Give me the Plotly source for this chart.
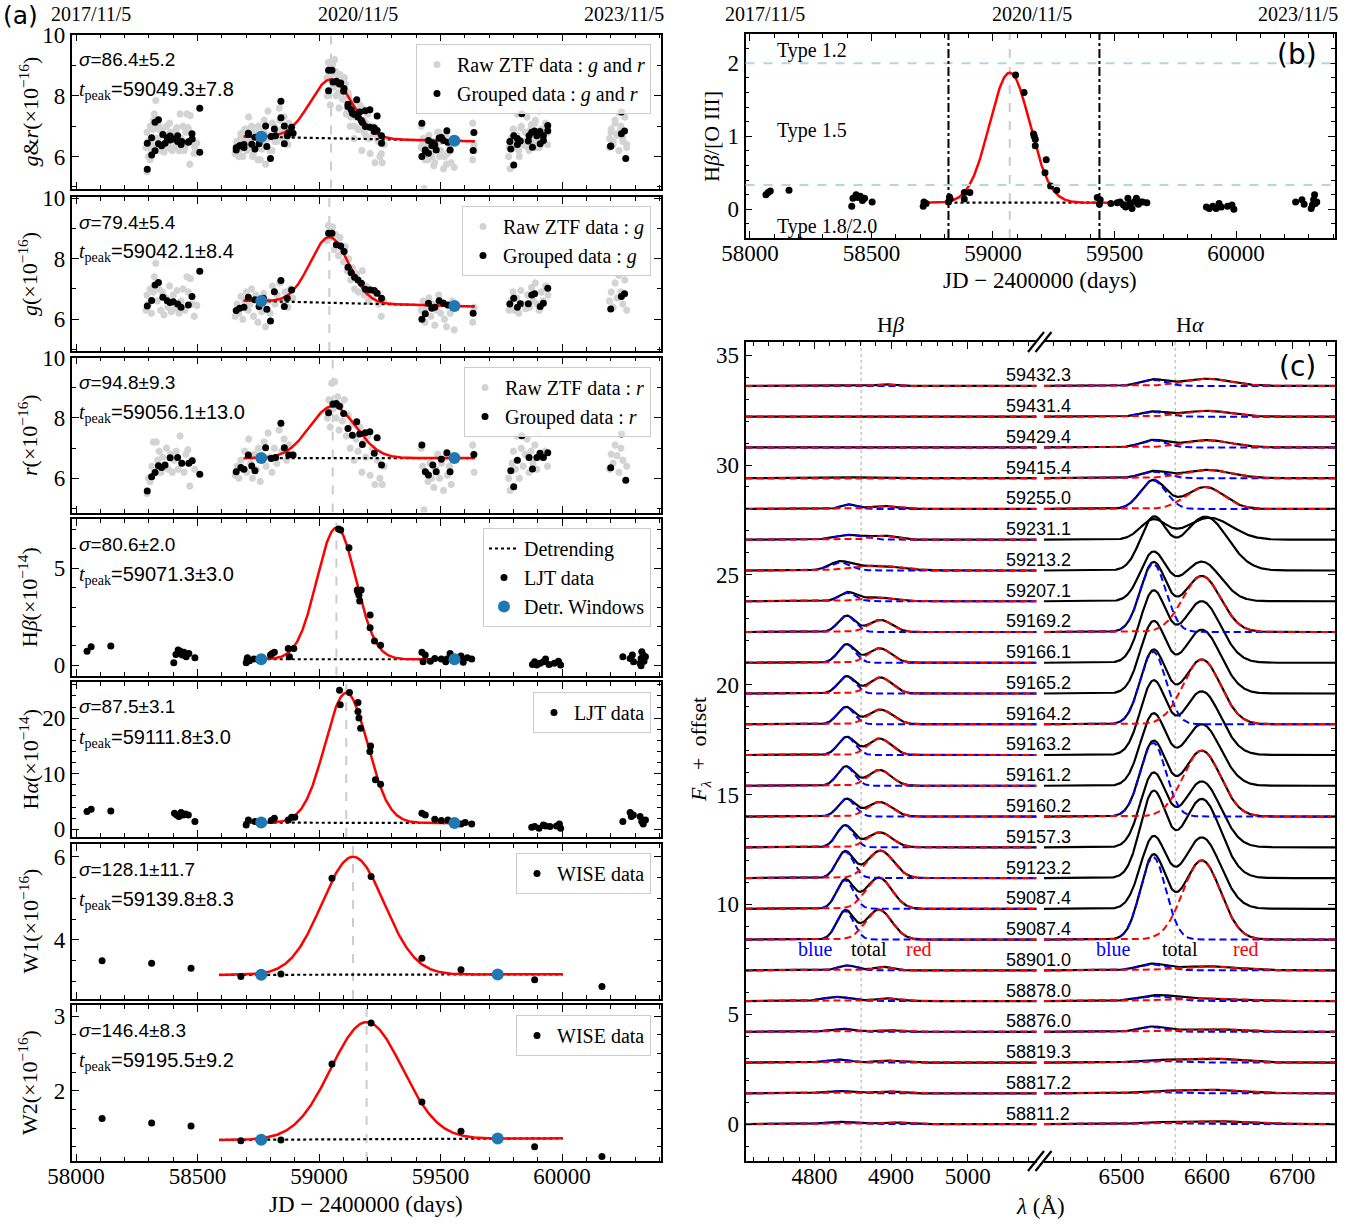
import numpy as np
import plotly.graph_objects as go

W, H = 1354, 1224
SERIF = "Liberation Serif"
SANS = "Liberation Sans"

def fx(px):
    return px / W

def fy(py):
    return 1 - py / H

# ------------------------------------------------------------------ data
# ZTF grouped g
g_grp_t = [58293, 58311, 58325, 58339, 58357, 58375, 58387, 58400, 58418, 58432, 58462, 58477, 58509,
           58659, 58673, 58691, 58709, 58736, 58753, 58771, 58785, 58800, 58816, 58843, 58857, 58869, 58887,
           59039, 59053, 59071, 59089, 59103, 59119, 59132, 59146, 59160, 59174, 59190, 59209, 59227, 59239, 59257,
           59423, 59437, 59450, 59464, 59476, 59494, 59512, 59530, 59634,
           59785, 59801, 59816, 59828, 59861, 59875, 59887, 59910, 59923, 59941,
           60200, 60244, 60257]
g_grp_v = [6.44, 6.62, 7.13, 7.21, 6.73, 6.61, 6.55, 6.58, 6.50, 6.40, 6.47, 6.75, 7.59,
           6.29, 6.36, 6.40, 6.73, 6.64, 6.42, 6.69, 6.33, 5.94, 6.91, 7.28, 6.42, 6.69, 6.97,
           8.84, 8.84, 8.46, 8.42, 8.24, 7.72, 7.54, 7.39, 7.30, 7.19, 6.99, 6.97, 6.95, 6.86, 6.69,
           6.00, 6.18, 6.53, 6.36, 6.40, 6.61, 6.53, 6.47, 6.20,
           6.50, 6.69, 6.40, 6.51, 6.51, 6.80, 6.84, 6.42, 6.53, 7.02,
           6.34, 6.75, 6.84]
# ZTF grouped r
r_grp_t = [58293, 58311, 58325, 58339, 58352, 58366, 58387, 58418, 58435, 58464, 58478, 58509,
           58659, 58678, 58691, 58709, 58723, 58736, 58780, 58803, 58821, 58843, 58857, 58875, 58893,
           59039, 59057, 59071, 59084, 59101, 59119, 59137, 59155, 59167, 59178, 59190, 59209, 59227, 59239, 59257,
           59423, 59437, 59450, 59468, 59482, 59503, 59526, 59539, 59637,
           59789, 59801, 59816, 59834, 59864, 59878, 59896, 59909, 59923, 59941,
           60200, 60244, 60262]
r_grp_v = [5.58, 6.05, 6.19, 6.42, 6.36, 6.44, 6.68, 6.69, 6.50, 6.50, 6.58, 6.14,
           6.22, 6.36, 6.30, 6.77, 6.41, 6.25, 7.01, 6.66, 6.69, 7.82, 7.01, 6.77, 6.77,
           8.17, 8.46, 8.48, 8.39, 8.15, 7.65, 7.43, 7.87, 7.47, 7.12, 7.51, 7.54, 6.83, 7.34, 6.44,
           7.10, 6.22, 6.11, 6.44, 6.22, 6.63, 6.85, 6.22, 6.79,
           6.25, 5.72, 6.60, 7.41, 6.69, 6.31, 6.69, 6.83, 6.69, 6.85,
           6.35, 7.47, 5.94]
# ZTF raw g
raw_g_t = [58288, 58292, 58298, 58305, 58310, 58318, 58322, 58328, 58334, 58340, 58348, 58355, 58362, 58370, 58378,
           58385, 58392, 58400, 58408, 58415, 58424, 58432, 58440, 58448, 58456, 58462, 58470, 58478, 58486, 58497,
           58655, 58662, 58670, 58678, 58686, 58694, 58700, 58708, 58716, 58722, 58730, 58740, 58748, 58756, 58764,
           58772, 58780, 58790, 58798, 58808, 58818, 58828, 58838, 58850, 58860, 58872, 58882, 58892,
           59032, 59038, 59044, 59050, 59056, 59062, 59068, 59074, 59080, 59086, 59094, 59100, 59108, 59115, 59122,
           59130, 59138, 59146, 59154, 59162, 59170, 59178, 59186, 59194, 59202, 59212, 59222, 59232, 59244, 59256, 59266,
           59420, 59428, 59436, 59444, 59452, 59460, 59468, 59476, 59484, 59492, 59500, 59508, 59516, 59524, 59532,
           59540, 59548, 59556, 59632, 59638,
           59782, 59790, 59798, 59806, 59814, 59822, 59830, 59840, 59850, 59858, 59866, 59874, 59882, 59890, 59898,
           59906, 59914, 59922, 59932, 59942,
           60195, 60202, 60210, 60218, 60226, 60234, 60242, 60250, 60258, 60266]
raw_g_v = [6.3, 6.8, 6.5, 7.0, 6.2, 6.9, 7.4, 7.85, 6.6, 7.0, 6.3, 6.9, 6.15, 6.7, 6.4,
           7.1, 6.25, 6.8, 6.35, 6.95, 6.2, 6.6, 7.0, 6.3, 7.4, 6.9, 7.35, 6.5, 6.1, 6.45,
           6.1, 6.5, 6.2, 6.75, 6.0, 6.6, 6.9, 6.3, 6.5, 7.0, 6.1, 6.8, 5.9, 6.5, 6.25,
           6.85, 5.75, 6.6, 6.2, 7.1, 6.5, 6.8, 7.2, 6.6, 6.9, 6.4, 7.0, 6.7,
           8.6, 9.1, 8.9, 8.7, 9.05, 8.3, 8.8, 8.5, 8.1, 8.7, 8.3, 7.9, 8.4, 7.6, 8.0,
           7.3, 7.7, 7.0, 7.5, 6.9, 7.2, 7.6, 6.8, 7.1, 6.6, 7.0, 6.75, 6.9, 6.5, 6.1, 6.6,
           6.3, 6.6, 5.9, 6.4, 6.7, 6.1, 6.5, 5.8, 6.3, 6.8, 6.2, 6.55, 6.0, 5.75, 6.45,
           6.2, 6.6, 5.65, 5.9, 6.4,
           6.3, 6.6, 6.9, 6.3, 6.7, 6.2, 6.95, 6.5, 6.35, 6.8, 6.4, 7.05, 6.6, 7.2, 6.5,
           6.3, 6.9, 6.6, 7.1, 6.8,
           6.6, 6.9, 6.4, 7.2, 6.7, 7.45, 6.9, 6.5, 7.3, 6.3]
# ZTF raw r
raw_r_t = [58292, 58298, 58305, 58312, 58318, 58324, 58330, 58336, 58342, 58350, 58356, 58364, 58372, 58380,
           58388, 58396, 58404, 58412, 58420, 58428, 58436, 58444, 58452, 58460, 58468, 58476, 58488,
           58655, 58662, 58670, 58678, 58686, 58694, 58702, 58710, 58718, 58726, 58734, 58742, 58750, 58758,
           58766, 58774, 58782, 58790, 58798, 58806, 58816, 58826, 58836, 58846, 58856, 58866, 58876, 58888,
           59034, 59040, 59046, 59052, 59058, 59064, 59070, 59076, 59082, 59088, 59096, 59104, 59112, 59120, 59128,
           59136, 59144, 59152, 59160, 59168, 59176, 59184, 59192, 59200, 59210, 59220, 59230, 59240, 59250, 59260, 59268,
           59420, 59426, 59432, 59440, 59448, 59456, 59464, 59472, 59480, 59488, 59496, 59504, 59512, 59520, 59528,
           59536, 59544, 59552, 59632, 59638,
           59780, 59786, 59794, 59800, 59808, 59816, 59824, 59832, 59840, 59848, 59856, 59864, 59872, 59880, 59888,
           59896, 59904, 59912, 59920, 59930, 59940, 59950,
           60195, 60202, 60210, 60218, 60226, 60234, 60242, 60250, 60258, 60266]
raw_r_v = [5.5, 6.0, 5.9, 6.4, 7.2, 6.3, 7.2, 6.6, 6.9, 6.2, 6.7, 6.4, 7.0, 6.3,
           6.8, 6.2, 6.6, 6.9, 6.3, 7.4, 6.5, 6.2, 6.8, 6.95, 5.75, 6.6, 6.3,
           6.1, 6.4, 6.0, 6.6, 6.3, 6.9, 6.2, 7.3, 6.5, 6.0, 6.8, 6.3, 7.0, 5.9,
           6.6, 7.2, 6.4, 7.5, 6.7, 6.2, 7.0, 6.5, 7.6, 6.9, 7.3, 6.6, 7.1, 6.8,
           8.0, 8.6, 7.7, 9.15, 8.3, 9.2, 8.0, 8.7, 7.6, 8.4, 7.9, 8.6, 7.4, 8.1, 7.0,
           7.8, 6.6, 7.3, 6.9, 7.7, 6.2, 7.2, 6.7, 7.4, 6.1, 7.0, 5.8, 6.6, 6.0, 5.8, 6.4,
           7.0, 6.4, 4.95, 6.2, 5.9, 6.5, 6.0, 5.7, 6.3, 6.8, 6.0, 6.5, 5.6, 6.7, 6.1,
           6.4, 5.8, 6.6, 7.1, 6.2,
           6.0, 5.6, 6.5, 6.9, 6.3, 7.4, 6.0, 7.0, 6.4, 6.8, 7.3, 6.2, 6.9, 6.5, 7.1,
           6.3, 7.5, 6.7, 7.9, 6.9, 6.4, 8.1,
           6.3, 6.8, 6.5, 7.1, 6.75, 6.2, 7.0, 6.6, 7.5, 6.4]
# LJT Hbeta flux
hb_t = [58045, 58062, 58143, 58402, 58411, 58420, 58429, 58437, 58444, 58453, 58464, 58489,
        58700, 58705, 58714, 58732, 58753, 58800, 58807, 58816, 58873, 58878, 58896,
        59080, 59089, 59123, 59157, 59160, 59164, 59167, 59173, 59210, 59210, 59228, 59253,
        59423, 59428, 59437, 59458, 59476, 59503, 59521, 59526, 59539, 59557, 59584, 59593, 59610, 59628,
        59878, 59887, 59896, 59910, 59923, 59932, 59946, 59968, 59985, 59994,
        60250, 60280, 60289, 60294, 60321, 60325, 60325, 60328, 60334, 60337, 60343]
hb_v = [0.72, 0.95, 0.98, 0.12, 0.55, 0.78, 0.72, 0.52, 0.66, 0.43, 0.60, 0.38,
        0.12, 0.38, 0.22, 0.31, 0.26, 0.52, 0.60, 0.66, 0.86, 0.43, 0.86,
        7.03, 6.98, 6.07, 3.88, 3.76, 3.62, 3.31, 3.88, 2.59, 1.93, 1.24, 1.03,
        0.66, 0.17, 0.52, 0.20, 0.34, 0.31, 0.17, 0.31, 0.60, 0.38, 0.47, 0.14, 0.38, 0.31,
        0.03, 0.17, 0.00, 0.09, 0.17, 0.31, 0.03, 0.09, 0.20, 0.00,
        0.43, 0.34, 0.52, 0.17, 0.09, 0.34, -0.03, 0.69, 0.52, 0.20, 0.43]
# LJT Halpha flux
ha_t = [58045, 58062, 58143, 58405, 58414, 58423, 58432, 58441, 58450, 58462, 58489,
        58700, 58709, 58736, 58803, 58816, 58873, 58887, 58900,
        59084, 59087, 59125, 59160, 59160, 59164, 59171, 59212, 59209, 59232, 59253,
        59423, 59437, 59476, 59503, 59530, 59557, 59584, 59601, 59628,
        59875, 59887, 59905, 59923, 59932, 59950, 59977, 59989, 59994,
        60250, 60280, 60285, 60293, 60321, 60328, 60334, 60343]
ha_v = [3.18, 3.60, 3.30, 2.88, 2.58, 2.28, 3.00, 2.58, 2.76, 2.58, 1.38,
        0.78, 1.68, 1.38, 1.56, 1.98, 1.68, 2.16, 2.16,
        25.0, 22.4, 24.6, 22.8, 21.2, 20.0, 18.2, 15.0, 14.0, 8.9, 8.1,
        2.88, 2.58, 1.80, 1.56, 1.68, 1.38, 0.96, 1.20, 0.96,
        0.36, 0.48, 0.18, 0.78, 0.60, 0.48, 0.60, 0.96, 0.18,
        1.38, 3.00, 2.28, 2.58, 2.28, 1.38, 0.96, 1.68]
# WISE
wise_t = [58107, 58311, 58473, 58678, 58843, 59053, 59214, 59423, 59584, 59887, 60164]
w1_v = [3.50, 3.44, 3.32, 3.12, 3.18, 5.48, 5.52, 3.56, 3.28, 3.04, 2.88]
w2_v = [1.63, 1.57, 1.53, 1.33, 1.34, 2.36, 2.91, 1.85, 1.46, 1.25, 1.12]

# Gaussian fits (panels a1..a7)
fit_sigma = [86.4, 79.4, 94.8, 80.6, 87.5, 128.1, 146.4]
fit_sigma_err = [5.2, 5.4, 9.3, 2.0, 3.1, 11.7, 8.3]
fit_tpeak = [59049.3, 59042.1, 59056.1, 59071.3, 59111.8, 59139.8, 59195.5]
fit_tpeak_err = [7.8, 8.4, 13.0, 3.0, 3.0, 8.3, 9.2]
fit_amp = [1.94, 2.17, 1.72, 6.8, 23.4, 2.83, 1.57]
win_t = [[58762, 59557], [58762, 59557], [58762, 59557], [58762, 59557], [58762, 59557],
         [58762, 59735], [58762, 59735]]
win_v = [[6.65, 6.52], [6.60, 6.44], [6.67, 6.67], [0.30, 0.30], [1.20, 1.12], [3.16, 3.17], [1.345, 1.36]]
fit_span = [[58690, 59640]] * 5 + [[58589, 60003]] * 2

# panel (b): Hbeta/[O III]
b_t = [58066, 58075, 58084, 58161, 58419, 58424, 58437, 58445, 58454, 58463, 58472, 58503,
       58713, 58716, 58725, 58817, 58821, 58824, 58882, 58882, 58905,
       59093, 59128, 59167, 59170, 59174, 59174, 59219, 59214, 59237, 59262,
       59429, 59438, 59441, 59485, 59511, 59523, 59537, 59546, 59555, 59563, 59572, 59581, 59590, 59598, 59607,
       59616, 59633,
       59878, 59890, 59904, 59918, 59930, 59939, 59965, 59983, 59991,
       60245, 60271, 60280, 60309, 60314, 60319, 60323, 60326, 60332]
b_v = [0.20, 0.23, 0.25, 0.26, 0.04, 0.15, 0.20, 0.16, 0.18, 0.12, 0.15, 0.10,
       0.04, 0.10, 0.08, 0.10, 0.17, 0.14, 0.23, 0.14, 0.23,
       1.84, 1.60, 1.03, 1.00, 0.96, 0.87, 0.68, 0.50, 0.32, 0.26,
       0.16, 0.07, 0.13, 0.08, 0.09, 0.10, 0.06, 0.03, 0.15, 0.08, 0.01, 0.10, 0.15, 0.07, 0.10,
       0.10, 0.09,
       0.03, 0.01, 0.04, 0.01, 0.08, 0.03, 0.04, 0.06, 0.00,
       0.10, 0.13, 0.07, 0.01, 0.06, 0.13, 0.20, 0.08, 0.10]
b_fit_tpeak = 59069.0
b_fit_sigma = 83.0
b_fit_amp = 1.78
b_fit_base = 0.09
b_fit_span = [58713, 59633]
b_detr_span = [58817, 59438]
b_type_lines = [2.0, 1 / 3]
b_vlines = [58817, 59438]

# panel (c): spectral decomposition (Gaussian components, per epoch, bottom to top)
spec_mjd = ["58811.2", "58817.2", "58819.3", "58876.0", "58878.0", "58901.0", "59087.4", "59087.4",
            "59123.2", "59157.3", "59160.2", "59161.2", "59163.2", "59164.2", "59165.2", "59166.1",
            "59169.2", "59207.1", "59213.2", "59231.1", "59255.0", "59415.4", "59429.4", "59431.4", "59432.3"]
spec_offset = [0.0, 1.4, 2.8, 4.2, 5.6, 7.0, 8.4, 9.8, 11.2, 12.6, 14.0, 15.4, 16.8, 18.2, 19.6, 21.0,
               22.4, 23.8, 25.2, 26.6, 28.0, 29.4, 30.8, 32.2, 33.6]
hb_b_amp = [0.10, 0.11, 0.14, 0.14, 0.19, 0.22, 1.30, 1.30, 1.20, 1.00, 0.80, 0.88, 0.82, 0.78, 0.78, 0.84,
            0.74, 0.38, 0.36, 0.22, 0.20, 0.03, 0.03, 0.01, 0.02]
hb_b_cen = [4830, 4830, 4830, 4835, 4830, 4843, 4840, 4840, 4840, 4840, 4842, 4841, 4842, 4841, 4842, 4842,
            4842, 4843, 4833, 4845, 4845, 4850, 4850, 4850, 4850]
hb_b_sig = [18, 18, 16, 16, 18, 12, 11, 11, 11, 11, 11, 11, 11, 11, 11, 11, 11, 11, 14, 18, 10, 20, 20, 20, 20]
hb_r_amp = [0.08, 0.09, 0.09, 0.08, 0.12, 0.16, 1.36, 1.42, 1.25, 0.68, 0.66, 0.72, 0.75, 0.67, 0.73, 0.66,
            0.55, 0.17, 0.22, 0.18, 0.13, 0.03, 0.02, 0.01, 0.07]
hb_r_cen = [4900, 4895, 4895, 4895, 4895, 4890, 4884, 4884, 4886, 4885, 4885, 4885, 4885, 4886, 4886, 4885,
            4886, 4880, 4880, 4890, 4890, 4890, 4890, 4890, 4893]
hb_r_sig = [18, 16, 15, 14, 15, 12, 17, 17, 17, 16, 16, 15, 15, 16, 15, 15, 15, 22, 30, 16, 18, 20, 20, 20, 10]
ha_b_amp = [0.05, 0.06, 0.08, 0.22, 0.22, 0.27, 3.75, 3.20, 3.85, 3.30, 3.35, 3.20, 3.30, 3.30, 3.20, 3.20,
            3.10, 2.20, 2.30, 0.90, 1.30, 0.30, 0.32, 0.22, 0.28]
ha_b_cen = [6535, 6535, 6535, 6535, 6540, 6535, 6537, 6537, 6537, 6537, 6537, 6537, 6537, 6537, 6537, 6537,
            6537, 6537, 6537, 6537, 6537, 6537, 6537, 6537, 6537]
ha_b_sig = [20, 20, 20, 15, 20, 16, 15, 15, 15, 15, 15, 15, 15, 15, 15, 15, 15, 15, 15, 15, 15, 15, 15, 15, 15]
ha_r_amp = [0.14, 0.17, 0.19, 0.13, 0.12, 0.18, 3.60, 3.25, 3.60, 3.00, 3.00, 2.80, 2.90, 2.95, 2.90, 2.80,
            2.55, 1.80, 2.45, 1.00, 1.00, 0.38, 0.33, 0.27, 0.33]
ha_r_cen = [6600, 6600, 6600, 6600, 6590, 6600, 6594, 6594, 6594, 6594, 6594, 6594, 6594, 6594, 6594, 6594,
            6594, 6594, 6598, 6603, 6598, 6600, 6600, 6600, 6600]
ha_r_sig = [38, 38, 35, 35, 40, 35, 22, 22, 22, 22, 22, 22, 22, 22, 22, 22, 22, 22, 26, 26, 22, 28, 28, 28, 28]
ha_show_comp = [1, 1, 1, 1, 1, 1, 1, 0, 0, 0, 1, 0, 0, 1, 0, 0, 1, 0, 0, 0, 1, 1, 1, 1, 1]

# ------------------------------------------------------------------ layout helpers
LEFT_PX = (71.7, 661.0)
RIGHT_PX = (745.5, 1335.0)
left_rows = [(34.5, 188.5), (197, 351), (357.5, 512.5), (519, 675.5), (682, 837), (844, 999), (1005, 1161)]
left_yrange = [[4.95, 10.02], [4.95, 10.04], [4.87, 10.0], [-0.54, 7.55], [-1.39, 26.5], [2.58, 6.3], [1.06, 3.15]]
left_dtick = [2, 2, 2, 5, 10, 2, 1]
left_minor = [1, 1, 1, 1, 2, 0.5, 0.25]
left_ytitle = ["<i>g</i>&amp;<i>r</i>(×10<sup>−16</sup>)", "<i>g</i>(×10<sup>−16</sup>)",
               "<i>r</i>(×10<sup>−16</sup>)", "H<i>β</i>(×10<sup>−14</sup>)", "H<i>α</i>(×10<sup>−14</sup>)",
               "W1(×10<sup>−16</sup>)", "W2(×10<sup>−16</sup>)"]
XRANGE = [57982, 60407]

TICKFONT = dict(family=SERIF, size=23, color="black")


def axis_style(**kw):
    d = dict(showline=True, linecolor="black", linewidth=1.6, mirror="allticks", ticks="inside",
             ticklen=7, tickwidth=1.3, tickcolor="black", showgrid=False, zeroline=False,
             tickfont=TICKFONT, tickformat="d", automargin=False)
    d.update(kw)
    return d


fig = go.Figure()
layout = dict(width=W, height=H, margin=dict(l=0, r=0, t=0, b=0, autoexpand=False), paper_bgcolor="white",
              plot_bgcolor="white", showlegend=True)
annotations = []
shapes = []


def gauss(x, a, c, s):
    return a * np.exp(-(np.asarray(x) - c) ** 2 / (2 * s ** 2))


GRAY = "#d3d3d3"
ERRGRAY = "#b0b0b0"
BLUEWIN = "#1f77b4"

legend_names = ["legend"] + [f"legend{i}" for i in range(2, 8)]
legend_top_px = [44, 206, 367, 528, 692, 853, 1015]

for k in range(7):
    n = k + 1
    xa = "x" if n == 1 else f"x{n}"
    ya = "y" if n == 1 else f"y{n}"
    xkey = "xaxis" if n == 1 else f"xaxis{n}"
    ykey = "yaxis" if n == 1 else f"yaxis{n}"
    top, bot = left_rows[k]
    layout[xkey] = axis_style(domain=[fx(LEFT_PX[0]), fx(LEFT_PX[1])], anchor=ya, range=XRANGE,
                              tick0=58000, dtick=500, showticklabels=(n == 7), ticklabelstandoff=-6,
                              minor=dict(ticks="inside", ticklen=4, tickwidth=1, tickcolor="black", dtick=100))
    layout[ykey] = axis_style(domain=[fy(bot), fy(top)], anchor=xa, range=left_yrange[k],
                              tick0=0, dtick=left_dtick[k],
                              minor=dict(ticks="inside", ticklen=4, tickwidth=1, tickcolor="black",
                                         dtick=left_minor[k]))
    leg = legend_names[k]
    layout[leg] = dict(x=fx(651), y=fy(legend_top_px[k]), xanchor="right", yanchor="top",
                       bgcolor="rgba(255,255,255,0.85)", bordercolor="#cccccc", borderwidth=1,
                       font=dict(family=SERIF, size=20, color="black"), itemwidth=30, tracegroupgap=0)

    # fit
    t0, t1 = fit_span[k]
    tt = np.linspace(t0, t1, 500)
    (wa, wb), (va, vb) = win_t[k], win_v[k]
    base = va + (vb - va) * (tt - wa) / (wb - wa)
    model = base + gauss(tt, fit_amp[k], fit_tpeak[k], fit_sigma[k])

    if k < 3:
        if k == 0:
            rt, rv = raw_g_t + raw_r_t, raw_g_v + raw_r_v
            gt, gv = g_grp_t + r_grp_t, g_grp_v + r_grp_v
            band = "<i>g</i> and <i>r</i>"
        elif k == 1:
            rt, rv, gt, gv, band = raw_g_t, raw_g_v, g_grp_t, g_grp_v, "<i>g</i>"
        else:
            rt, rv, gt, gv, band = raw_r_t, raw_r_v, r_grp_t, r_grp_v, "<i>r</i>"
        fig.add_trace(go.Scatter(x=rt, y=rv, mode="markers", xaxis=xa, yaxis=ya, legend=leg,
                                 name=f"Raw ZTF data : {band}",
                                 marker=dict(color=GRAY, size=7),
                                 error_y=dict(type="constant", value=0.12, color=GRAY, thickness=1.2, width=0)))
        fig.add_trace(go.Scatter(x=tt, y=base, mode="lines", xaxis=xa, yaxis=ya, showlegend=False,
                                 line=dict(color="black", width=2.2, dash="dot")))
        fig.add_trace(go.Scatter(x=tt, y=model, mode="lines", xaxis=xa, yaxis=ya, showlegend=False,
                                 line=dict(color="red", width=2.5)))
        fig.add_trace(go.Scatter(x=gt, y=gv, mode="markers", xaxis=xa, yaxis=ya, legend=leg,
                                 name=f"Grouped data : {band}",
                                 marker=dict(color="black", size=7),
                                 error_y=dict(type="constant", value=0.1, color=ERRGRAY, thickness=1.5, width=0)))
    else:
        if k == 3:
            dt, dv, dname, err = hb_t, hb_v, "LJT data", 0.12
        elif k == 4:
            dt, dv, dname, err = ha_t, ha_v, "LJT data", 0.35
        elif k == 5:
            dt, dv, dname, err = wise_t, w1_v, "WISE data", 0.06
        else:
            dt, dv, dname, err = wise_t, w2_v, "WISE data", 0.03
        fig.add_trace(go.Scatter(x=tt, y=base, mode="lines", xaxis=xa, yaxis=ya, legend=leg,
                                 name="Detrending", showlegend=(k == 3),
                                 line=dict(color="black", width=2.2, dash="dot")))
        fig.add_trace(go.Scatter(x=tt, y=model, mode="lines", xaxis=xa, yaxis=ya, showlegend=False,
                                 line=dict(color="red", width=2.5)))
        fig.add_trace(go.Scatter(x=dt, y=dv, mode="markers", xaxis=xa, yaxis=ya, legend=leg, name=dname,
                                 marker=dict(color="black", size=7),
                                 error_y=dict(type="constant", value=err, color=ERRGRAY, thickness=1.5, width=0)))
    fig.add_trace(go.Scatter(x=win_t[k], y=win_v[k], mode="markers", xaxis=xa, yaxis=ya, legend=leg,
                             name="Detr. Windows", showlegend=(k == 3),
                             marker=dict(color=BLUEWIN, size=12)))

    shapes.append(dict(type="line", xref=xa, yref=f"{ya} domain", x0=fit_tpeak[k], x1=fit_tpeak[k],
                       y0=0, y1=1, line=dict(color="#cccccc", width=2, dash="dash"), layer="below"))
    annotations.append(dict(xref="paper", yref="paper", x=fx(77), y=fy(top + 25), xanchor="left",
                            yanchor="middle", showarrow=False,
                            text=f"<i>σ</i>={fit_sigma[k]:.1f}±{fit_sigma_err[k]:.1f}",
                            font=dict(family=SANS, size=19, color="black")))
    annotations.append(dict(xref="paper", yref="paper", x=fx(77), y=fy(top + 56), xanchor="left",
                            yanchor="middle", showarrow=False,
                            text=(f"<span style='font-family:{SERIF}'><i>t</i></span><sub>"
                                  f"<span style='font-family:{SERIF}'>peak</span></sub>"
                                  f"={fit_tpeak[k]:.1f}±{fit_tpeak_err[k]:.1f}"),
                            font=dict(family=SANS, size=20, color="black")))
    annotations.append(dict(xref="paper", yref="paper", x=fx(28), y=fy((top + bot) / 2), textangle=-90,
                            xanchor="center", yanchor="middle", showarrow=False, text=left_ytitle[k],
                            font=dict(family=SERIF, size=22, color="black")))

# date labels on top
date_t = [58062.5, 59158.5, 60253.5]
date_lab = ["2017/11/5", "2020/11/5", "2023/11/5"]
for xa in ["x", "x8"]:
    for t, lab in zip(date_t, date_lab):
        annotations.append(dict(xref=xa, yref="paper", x=t, y=fy(14), showarrow=False, text=lab,
                                font=dict(family=SERIF, size=20, color="black")))
annotations.append(dict(xref="paper", yref="paper", x=fx(366), y=fy(1204), showarrow=False,
                        text="JD − 2400000 (days)", font=dict(family=SERIF, size=23, color="black")))
annotations.append(dict(xref="paper", yref="paper", x=fx(20), y=fy(16), showarrow=False, text="(a)",
                        font=dict(family="DejaVu Sans", size=25, color="black")))

# ------------------------------------------------------------------ panel (b)
layout["xaxis8"] = axis_style(domain=[fx(RIGHT_PX[0]), fx(RIGHT_PX[1])], anchor="y8", range=XRANGE,
                              tick0=58000, dtick=500, ticklabelstandoff=-6,
                              minor=dict(ticks="inside", ticklen=4, tickwidth=1, tickcolor="black", dtick=100))
layout["yaxis8"] = axis_style(domain=[fy(238), fy(34)], anchor="x8", range=[-0.393, 2.4], tick0=0, dtick=1,
                              minor=dict(ticks="inside", ticklen=4, tickwidth=1, tickcolor="black", dtick=0.2))
for yv in b_type_lines:
    shapes.append(dict(type="line", xref="x8 domain", yref="y8", x0=0, x1=1, y0=yv, y1=yv,
                       line=dict(color="#add8e6", width=2, dash="dash")))
for xv in b_vlines:
    shapes.append(dict(type="line", xref="x8", yref="y8 domain", x0=xv, x1=xv, y0=0, y1=1,
                       line=dict(color="black", width=2, dash="dashdot")))
shapes.append(dict(type="line", xref="x8", yref="y8 domain", x0=b_fit_tpeak, x1=b_fit_tpeak, y0=0, y1=1,
                   line=dict(color="#cccccc", width=2, dash="dash"), layer="below"))
tb = np.linspace(b_fit_span[0], b_fit_span[1], 500)
fig.add_trace(go.Scatter(x=b_detr_span, y=[b_fit_base, b_fit_base], mode="lines", xaxis="x8", yaxis="y8",
                         showlegend=False, line=dict(color="black", width=2.2, dash="dot")))
fig.add_trace(go.Scatter(x=tb, y=b_fit_base + gauss(tb, b_fit_amp, b_fit_tpeak, b_fit_sigma), mode="lines",
                         xaxis="x8", yaxis="y8", showlegend=False, line=dict(color="red", width=2.5)))
fig.add_trace(go.Scatter(x=b_t, y=b_v, mode="markers", xaxis="x8", yaxis="y8", showlegend=False,
                         marker=dict(color="black", size=7),
                         error_y=dict(type="constant", value=0.04, color=ERRGRAY, thickness=1.5, width=0)))
for txt, yv in [("Type 1.2", 2.17), ("Type 1.5", 1.08), ("Type 1.8/2.0", -0.23)]:
    annotations.append(dict(xref="x8", yref="y8", x=58105, y=yv, xanchor="left", yanchor="middle",
                            showarrow=False, text=txt, font=dict(family=SERIF, size=20, color="black")))
annotations.append(dict(xref="paper", yref="paper", x=fx(1297), y=fy(55), showarrow=False, text="(b)",
                        font=dict(family="DejaVu Sans", size=28, color="black")))
annotations.append(dict(xref="paper", yref="paper", x=fx(711), y=fy(137), textangle=-90, showarrow=False,
                        text="H<i>β</i>/[O III]", font=dict(family=SERIF, size=22, color="black")))
annotations.append(dict(xref="paper", yref="paper", x=fx(1040), y=fy(281), showarrow=False,
                        text="JD − 2400000 (days)", font=dict(family=SERIF, size=23, color="black")))

# ------------------------------------------------------------------ panel (c)
HB_PX = (745.5, 1036.6)
HA_PX = (1043.8, 1335.0)
C_TOP, C_BOT = 342, 1161
CY = [-1.68, 35.6]
minor_c = dict(ticks="inside", ticklen=4, tickwidth=1, tickcolor="black", dtick=20)
layout["xaxis9"] = axis_style(domain=[fx(HB_PX[0]), fx(HB_PX[1])], anchor="y9", range=[4710, 5090],
                              tick0=4800, dtick=100, minor=minor_c, ticklabelstandoff=-6)
layout["yaxis9"] = axis_style(domain=[fy(C_BOT), fy(C_TOP)], anchor="x9", range=CY, tick0=0, dtick=5,
                              mirror=False,
                              minor=dict(ticks="inside", ticklen=4, tickwidth=1, tickcolor="black", dtick=1))
layout["xaxis10"] = axis_style(domain=[fx(HA_PX[0]), fx(HA_PX[1])], anchor="y10", range=[6409, 6750],
                               tick0=6500, dtick=100, minor=minor_c, ticklabelstandoff=-6)
layout["yaxis10"] = axis_style(domain=[fy(C_BOT), fy(C_TOP)], anchor="x10", range=CY, tick0=0, dtick=5,
                               side="right", mirror=False, showticklabels=False,
                               minor=dict(ticks="inside", ticklen=4, tickwidth=1, tickcolor="black", dtick=1))

shapes.append(dict(type="line", xref="x9", yref="y9 domain", x0=4861, x1=4861, y0=0, y1=1,
                   line=dict(color="#c8c8c8", width=1.5, dash="dot"), layer="below"))
shapes.append(dict(type="line", xref="x10", yref="y10 domain", x0=6563, x1=6563, y0=0, y1=1,
                   line=dict(color="#c8c8c8", width=1.5, dash="dot"), layer="below"))

lam_b = np.linspace(4710, 5090, 500)
lam_a = np.linspace(6409, 6750, 500)
DASH = "7px,4px"
for i in range(len(spec_mjd)):
    off = spec_offset[i]
    bb = gauss(lam_b, hb_b_amp[i], hb_b_cen[i], hb_b_sig[i])
    br = gauss(lam_b, hb_r_amp[i], hb_r_cen[i], hb_r_sig[i])
    fig.add_trace(go.Scatter(x=lam_b, y=off + bb + br, mode="lines", xaxis="x9", yaxis="y9", showlegend=False,
                             line=dict(color="black", width=2.2)))
    fig.add_trace(go.Scatter(x=lam_b, y=off + bb, mode="lines", xaxis="x9", yaxis="y9", showlegend=False,
                             line=dict(color="blue", width=2, dash=DASH)))
    fig.add_trace(go.Scatter(x=lam_b, y=off + br, mode="lines", xaxis="x9", yaxis="y9", showlegend=False,
                             line=dict(color="red", width=2, dash=DASH)))
    ab = gauss(lam_a, ha_b_amp[i], ha_b_cen[i], ha_b_sig[i])
    ar = gauss(lam_a, ha_r_amp[i], ha_r_cen[i], ha_r_sig[i])
    fig.add_trace(go.Scatter(x=lam_a, y=off + ab + ar, mode="lines", xaxis="x10", yaxis="y10", showlegend=False,
                             line=dict(color="black", width=2.2)))
    if ha_show_comp[i]:
        fig.add_trace(go.Scatter(x=lam_a, y=off + ab, mode="lines", xaxis="x10", yaxis="y10", showlegend=False,
                                 line=dict(color="blue", width=2, dash=DASH)))
        fig.add_trace(go.Scatter(x=lam_a, y=off + ar, mode="lines", xaxis="x10", yaxis="y10", showlegend=False,
                                 line=dict(color="red", width=2, dash=DASH)))
    annotations.append(dict(xref="paper", yref="y9", x=fx(1038), y=off + 0.48, showarrow=False,
                            text=spec_mjd[i], font=dict(family=SANS, size=18, color="black")))

# component labels
for xa, xs in [("x9", [4802, 4871, 4936]), ("x10", [6491, 6568, 6646])]:
    for x, txt, col in zip(xs, ["blue", "total", "red"], ["blue", "black", "red"]):
        annotations.append(dict(xref=xa, yref="y9", x=x, y=7.95, showarrow=False, text=txt,
                                font=dict(family=SERIF, size=20, color=col)))
annotations.append(dict(xref="paper", yref="paper", x=fx(890), y=fy(325), showarrow=False, text="H<i>β</i>",
                        font=dict(family=SERIF, size=22, color="black")))
annotations.append(dict(xref="paper", yref="paper", x=fx(1190), y=fy(325), showarrow=False, text="H<i>α</i>",
                        font=dict(family=SERIF, size=22, color="black")))
annotations.append(dict(xref="paper", yref="paper", x=fx(1297), y=fy(366), showarrow=False, text="(c)",
                        font=dict(family="DejaVu Sans", size=28, color="black")))
annotations.append(dict(xref="paper", yref="paper", x=fx(1040), y=fy(1206), showarrow=False,
                        text="<i>λ</i> (Å)", font=dict(family=SERIF, size=23, color="black")))
annotations.append(dict(xref="paper", yref="paper", x=fx(700), y=fy(750), textangle=-90, showarrow=False,
                        text="<i>F</i><sub><i>λ</i></sub>  +  offset",
                        font=dict(family=SERIF, size=22, color="black")))
# axis break marks
for yc in [C_TOP, C_BOT]:
    for xc in [1036.0, 1043.5]:
        shapes.append(dict(type="line", xref="paper", yref="paper", x0=fx(xc - 8), y0=fy(yc + 10),
                           x1=fx(xc + 8), y1=fy(yc - 10), line=dict(color="black", width=2.2)))

for a in annotations:
    a.setdefault("xanchor", "center")
    a.setdefault("yanchor", "middle")

layout["annotations"] = annotations
layout["shapes"] = shapes
fig.update_layout(**layout)
fig.write_html("out.html",
               post_script="document.body.style.margin='0';document.body.style.overflow='hidden';")
